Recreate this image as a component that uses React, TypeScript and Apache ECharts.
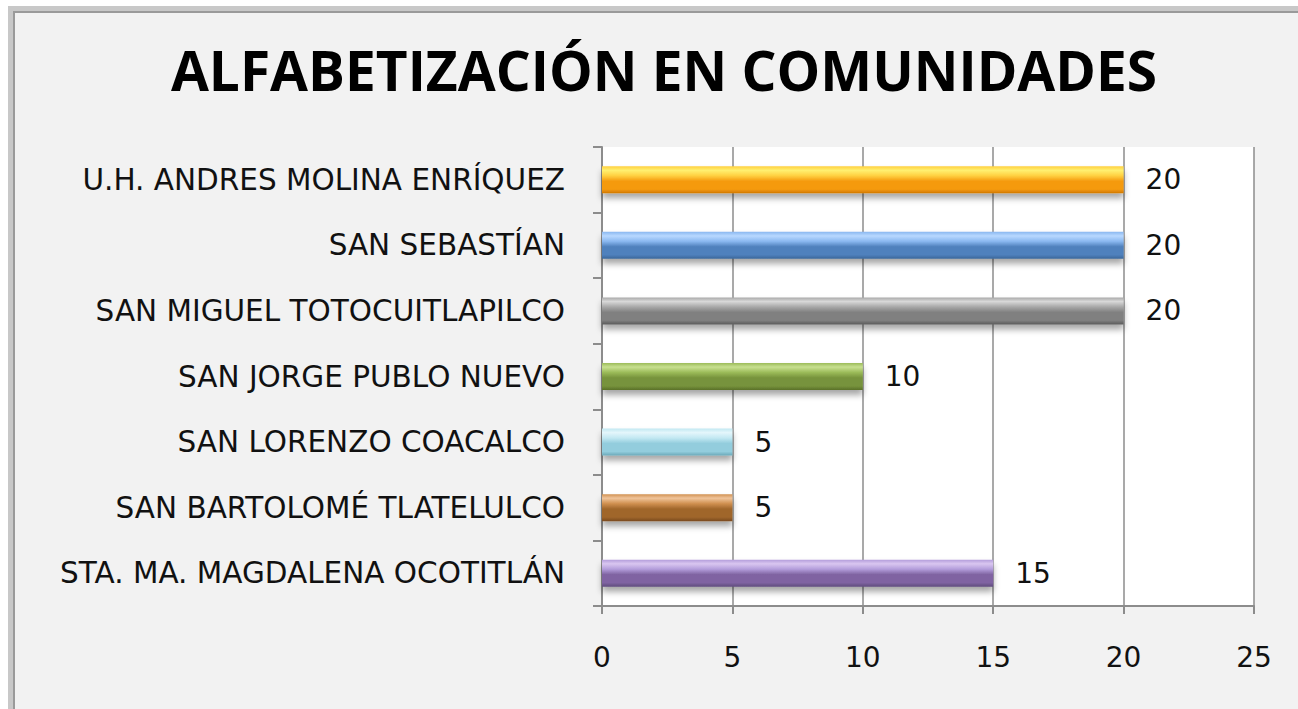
import React, { useEffect, useRef } from "react";
import * as echarts from "echarts";

const title = "ALFABETIZACIÓN EN COMUNIDADES";
const categories = [
  "STA. MA. MAGDALENA OCOTITLÁN",
  "SAN BARTOLOMÉ TLATELULCO",
  "SAN LORENZO COACALCO",
  "SAN JORGE PUBLO NUEVO",
  "SAN MIGUEL TOTOCUITLAPILCO",
  "SAN SEBASTÍAN",
  "U.H. ANDRES MOLINA ENRÍQUEZ",
];
const values = [15, 5, 5, 10, 20, 20, 20];
// [highlight, light, base, dark]
const barColors = [
  ["#d9c6f0", "#b39ddb", "#8064a2", "#5f4a7c"],
  ["#f0c49a", "#d09050", "#a0662c", "#7a4a1e"],
  ["#e4f6fb", "#c2e8f2", "#93cddd", "#6aa8b8"],
  ["#c8e090", "#9bbb59", "#77933c", "#5a7028"],
  ["#d8d8d8", "#a8a8a8", "#808080", "#5a5a5a"],
  ["#b8d8ff", "#8ab8f0", "#4f81bd", "#3a6598"],
  ["#fff070", "#ffd040", "#f59a10", "#d07800"],
];
const xTicks = { min: 0, max: 25, interval: 5 };

const FONT = "DejaVu Sans";
const TITLE_FONT = "Open Sans";

export default function App() {
  const ref = useRef<HTMLDivElement>(null);
  useEffect(() => {
    if (!ref.current) return;
    const chart = echarts.init(ref.current, null, { renderer: "svg" });
    const data = values.map((v, i) => ({
      value: v,
      itemStyle: {
        color: new echarts.graphic.LinearGradient(0, 0, 0, 1, [
          { offset: 0, color: barColors[i][1] },
          { offset: 0.15, color: barColors[i][0] },
          { offset: 0.35, color: barColors[i][1] },
          { offset: 0.55, color: barColors[i][2] },
          { offset: 0.85, color: barColors[i][2] },
          { offset: 1, color: barColors[i][3] },
        ]),
        shadowColor: "rgba(0,0,0,0.35)",
        shadowBlur: 6,
        shadowOffsetY: 5,
      },
    }));
    chart.setOption({
      animation: false,
      backgroundColor: "#ffffff",
      graphic: [
        { type: "rect", z: -10, shape: { x: 8, y: 6, width: 1300, height: 710 }, style: { fill: "#c8c8c8" } },
        { type: "rect", z: -9, shape: { x: 13, y: 11, width: 1300, height: 710 }, style: { fill: "#9a9a9a" } },
        { type: "rect", z: -8, shape: { x: 15, y: 13, width: 1300, height: 710 }, style: { fill: "#f2f2f2" } },
        { type: "rect", z: -7, shape: { x: 602, y: 147, width: 652, height: 459 }, style: { fill: "#ffffff" } },
      ],
      title: {
        text: title,
        left: 659,
        top: 37,
        textAlign: "center",
        textStyle: { fontFamily: TITLE_FONT, fontWeight: "bold", fontSize: 55, color: "#000" },
      },
      grid: { left: 602, top: 147, right: 44, bottom: 103, containLabel: false },
      xAxis: {
        type: "value",
        min: xTicks.min,
        max: xTicks.max,
        interval: xTicks.interval,
        axisLine: { show: true, lineStyle: { color: "#8c8c8c", width: 2 } },
        axisTick: { show: true, length: 8, lineStyle: { color: "#8c8c8c", width: 2 } },
        splitLine: { show: true, lineStyle: { color: "#8c8c8c", width: 1.5 } },
        axisLabel: { margin: 37, fontFamily: FONT, fontSize: 28, color: "#111" },
      },
      yAxis: {
        type: "category",
        data: categories,
        axisLine: { show: true, lineStyle: { color: "#8c8c8c", width: 2 } },
        axisTick: { show: true, length: 9, lineStyle: { color: "#8c8c8c", width: 2 } },
        axisLabel: { margin: 37, fontFamily: FONT, fontSize: 29.5, color: "#111", padding: [4, 0, 0, 0] },
      },
      series: [
        {
          type: "bar",
          data,
          barWidth: 27,
          label: {
            show: true,
            position: "right",
            distance: 22,
            fontFamily: FONT,
            fontSize: 28,
            color: "#111",
            padding: [4, 0, 0, 0],
          },
        },
      ],
    });
    return () => chart.dispose();
  }, []);
  return (
    <div
      ref={ref}
      style={{ position: "fixed", left: 0, top: 0, width: 1298, height: 709 }}
    />
  );
}
